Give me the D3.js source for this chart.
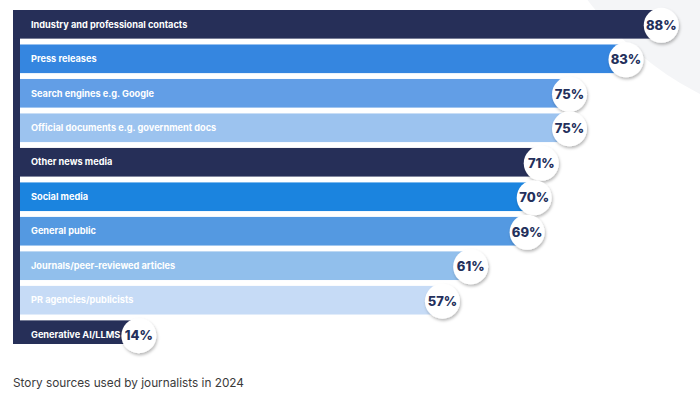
<!DOCTYPE html>
<html lang="en">
<meta charset="utf-8">
<style>
body {
  margin: 0;
  background: #fff;
  font-family: 'Inter', 'Open Sans', sans-serif;
}
.cat {
  fill: #fff;
  font-size: 9.2px;
  font-weight: 700;
}
.pct {
  fill: #24305c;
  font-size: 13px;
  font-weight: 800;
}
.caption {
  fill: #3a3a3a;
  font-size: 11.8px;
}
</style>
<body>
<div id="chart"></div>
<script src="https://d3js.org/d3.v7.min.js"></script>
<script>

// data
var categories = [
  "Industry and professional contacts",
  "Press releases",
  "Search engines e.g. Google",
  "Official documents e.g. government docs",
  "Other news media",
  "Social media",
  "General public",
  "Journals/peer-reviewed articles",
  "PR agencies/publicists",
  "Generative AI/LLMS"
];
var values = [88, 83, 75, 75, 71, 70, 69, 61, 57, 14];
var barColors = ["#262f58", "#3586e0", "#629ee6", "#9cc3ef", "#262f58",
                 "#1b84df", "#5499e1", "#91bfec", "#c6dbf6", "#262f58"];
var caption = "Story sources used by journalists in 2024";

var width = 700,
    height = 395,
    frameLeft = 13,   // outer edge of the navy frame
    strip = 7,        // width of the navy strip on the left
    frameTop = 10,
    frameBottom = 344;

var svg = d3.select("#chart").append("svg")
    .attr("width", width)
    .attr("height", height);

var defs = svg.append("defs");
var shadow = defs.append("filter")
    .attr("id", "shadow")
    .attr("x", "-50%").attr("y", "-50%")
    .attr("width", "200%").attr("height", "200%");
shadow.append("feDropShadow")
    .attr("dx", 1).attr("dy", 2)
    .attr("stdDeviation", 1.6)
    .attr("flood-color", "#000")
    .attr("flood-opacity", 0.28);

defs.append("clipPath").attr("id", "frame")
  .append("rect")
    .attr("x", 0).attr("y", frameTop)
    .attr("width", width).attr("height", frameBottom - frameTop);

// faint background disc in the top right corner
svg.append("circle")
    .attr("cx", 850).attr("cy", -200).attr("r", 330)
    .attr("fill", "#f4f5f7");

var x = d3.scaleLinear()
    .domain([0, 100])
    .range([40, 746]);

var y = d3.scaleBand()
    .domain(categories)
    .range([frameTop, 349])
    .paddingInner(0.17);

var rows = categories.map(function(c, i) {
  return { name: c, value: values[i], color: barColors[i], dark: barColors[i] == "#262f58" };
});

var g = svg.append("g").attr("clip-path", "url(#frame)");

// navy strip down the left
g.append("rect")
    .attr("x", frameLeft).attr("y", frameTop)
    .attr("width", strip).attr("height", frameBottom - frameTop)
    .attr("fill", "#262f58");

g.selectAll("rect.bar")
    .data(rows)
  .enter().append("rect")
    .attr("class", "bar")
    .attr("x", function(d) { return d.dark ? frameLeft : frameLeft + strip; })
    .attr("y", function(d) { return y(d.name); })
    .attr("width", function(d) { return x(d.value) - (d.dark ? frameLeft : frameLeft + strip); })
    .attr("height", y.bandwidth())
    .attr("fill", function(d) { return d.color; });

g.selectAll("text.cat")
    .data(rows)
  .enter().append("text")
    .attr("class", "cat")
    .attr("x", frameLeft + 18)
    .attr("y", function(d) { return y(d.name) + y.bandwidth() / 2; })
    .attr("dy", "0.35em")
    .text(function(d) { return d.name; });

// value bubbles
var bubbles = svg.selectAll("g.bubble")
    .data(rows)
  .enter().append("g")
    .attr("class", "bubble")
    .attr("transform", function(d) {
      return "translate(" + x(d.value) + "," + (y(d.name) + y.bandwidth() / 2 + 1) + ")";
    });

bubbles.append("circle")
    .attr("r", 17.5)
    .attr("fill", "#fff")
    .attr("filter", "url(#shadow)");

bubbles.append("text")
    .attr("class", "pct")
    .attr("text-anchor", "middle")
    .attr("dy", "0.36em")
    .text(function(d) { return d.value + "%"; });

svg.append("text")
    .attr("class", "caption")
    .attr("x", frameLeft)
    .attr("y", 387)
    .text(caption);

</script>
</body>
</html>
